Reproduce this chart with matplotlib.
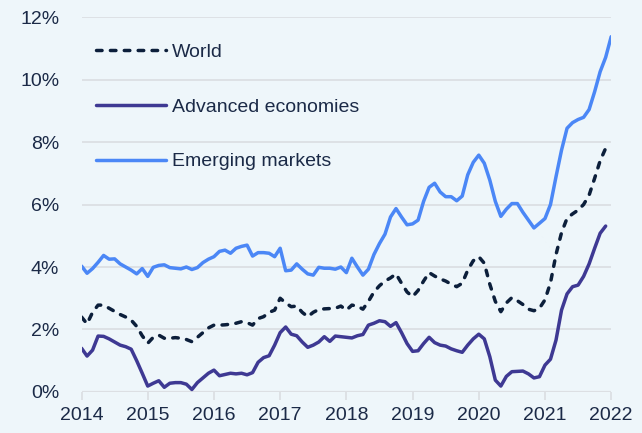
import matplotlib
matplotlib.use("Agg")
import matplotlib.pyplot as plt
import numpy as np

plt.rcParams['font.family'] = ['Liberation Sans', 'DejaVu Sans']

# Monthly series, Jan 2014 onward (percent)
world = [2.40, 2.18, 2.55, 2.78, 2.78, 2.68, 2.58, 2.48, 2.40, 2.30, 2.10, 1.80,
         1.56, 1.75, 1.82, 1.72, 1.72, 1.74, 1.72, 1.68, 1.61, 1.75, 1.90, 2.05,
         2.14, 2.14, 2.15, 2.17, 2.20, 2.25, 2.22, 2.14, 2.35, 2.41, 2.55, 2.62,
         3.00, 2.85, 2.73, 2.75, 2.55, 2.41, 2.55, 2.64, 2.66, 2.67, 2.68, 2.75,
         2.62, 2.78, 2.75, 2.65, 2.90, 3.20, 3.40, 3.55, 3.65, 3.78, 3.48, 3.20,
         3.05, 3.25, 3.55, 3.82, 3.71, 3.62, 3.55, 3.45, 3.37, 3.48, 3.90, 4.20,
         4.33, 4.12, 3.45, 2.90, 2.57, 2.85, 3.02, 2.92, 2.80, 2.65, 2.60, 2.68,
         2.95, 3.50, 4.40, 5.10, 5.56, 5.70, 5.82, 6.00, 6.30, 6.84, 7.40, 7.80]

advanced = [1.40, 1.15, 1.34, 1.79, 1.78, 1.70, 1.60, 1.50, 1.45, 1.37, 1.00, 0.60,
            0.19, 0.28, 0.36, 0.15, 0.28, 0.30, 0.30, 0.25, 0.08, 0.30, 0.45, 0.60,
            0.70, 0.52, 0.56, 0.60, 0.58, 0.60, 0.55, 0.62, 0.95, 1.10, 1.16, 1.50,
            1.90, 2.08, 1.85, 1.80, 1.60, 1.43, 1.50, 1.60, 1.77, 1.62, 1.79, 1.77,
            1.75, 1.73, 1.80, 1.84, 2.14, 2.20, 2.28, 2.25, 2.10, 2.22, 1.90, 1.55,
            1.30, 1.32, 1.55, 1.75, 1.58, 1.50, 1.47, 1.38, 1.32, 1.27, 1.50, 1.70,
            1.85, 1.70, 1.13, 0.38, 0.19, 0.50, 0.65, 0.66, 0.67, 0.58, 0.45, 0.49,
            0.86, 1.05, 1.66, 2.62, 3.14, 3.37, 3.42, 3.70, 4.10, 4.60, 5.08, 5.31]

emerging = [4.03, 3.80, 3.95, 4.15, 4.37, 4.25, 4.26, 4.10, 4.00, 3.90, 3.78, 3.95,
            3.70, 3.99, 4.05, 4.07, 3.98, 3.96, 3.94, 4.00, 3.92, 3.98, 4.14, 4.25,
            4.33, 4.50, 4.54, 4.44, 4.60, 4.66, 4.70, 4.35, 4.46, 4.46, 4.44, 4.33,
            4.60, 3.88, 3.90, 4.10, 3.93, 3.78, 3.74, 3.99, 3.96, 3.96, 3.93, 4.00,
            3.82, 4.28, 4.00, 3.74, 3.93, 4.40, 4.75, 5.05, 5.60, 5.87, 5.60, 5.35,
            5.38, 5.50, 6.10, 6.55, 6.68, 6.40, 6.25, 6.25, 6.12, 6.27, 6.95, 7.35,
            7.58, 7.32, 6.78, 6.10, 5.62, 5.85, 6.03, 6.03, 5.75, 5.50, 5.25, 5.40,
            5.55, 6.00, 6.89, 7.74, 8.44, 8.62, 8.72, 8.79, 9.04, 9.61, 10.25, 10.71,
            11.37]

years = [2014, 2015, 2016, 2017, 2018, 2019, 2020, 2021, 2022]
yticks = [0, 2, 4, 6, 8, 10, 12]
labels = ["World", "Advanced economies", "Emerging markets"]

BG = "#eef6fa"
TXT = "#1b2a47"
C_WORLD = "#0c1f3b"
C_ADV = "#3e3993"
C_EM = "#4b87f6"
GRID = "#dcdfe3"

fig = plt.figure(figsize=(6.42, 4.33), dpi=100, facecolor=BG)
ax = fig.add_axes([0.127, 0.0947, 0.825, 0.866], facecolor=BG)

x_w = 2014 + np.arange(len(world)) / 12.0
x_a = 2014 + np.arange(len(advanced)) / 12.0
x_e = 2014 + np.arange(len(emerging)) / 12.0

lw = 2.5
ax.plot(x_w, world, color=C_WORLD, lw=lw, ls=(0, (1.6, 2.4)), label=labels[0],
        dash_capstyle='round', dash_joinstyle='round', zorder=3)
ax.plot(x_a, advanced, color=C_ADV, lw=lw, label=labels[1], zorder=3,
        solid_joinstyle='round', solid_capstyle='round')
ax.plot(x_e, emerging, color=C_EM, lw=lw, label=labels[2], zorder=3,
        solid_joinstyle='round', solid_capstyle='round')

ax.set_xlim(2014, 2022)
ax.set_ylim(0, 12)
ax.set_yticks(yticks)
ax.set_yticklabels([f"{v}%" for v in yticks])
ax.set_xticks(years)
ax.set_xticklabels([str(y) for y in years])

for v in yticks[1:]:
    ax.axhline(v, color=GRID, lw=1.3, zorder=1)
ax.axhline(0, color=GRID, lw=1.6, zorder=1)

for s in ax.spines.values():
    s.set_visible(False)

ax.tick_params(axis='y', length=0, pad=16, labelsize=14, labelcolor=TXT)
ax.tick_params(axis='x', length=6, width=1.3, color=GRID, pad=5,
               labelsize=14, labelcolor=TXT)

leg = ax.legend(loc='upper left', bbox_to_anchor=(0.028, 0.929), frameon=False,
                handlelength=3.6, handletextpad=0.3, labelspacing=1.9,
                fontsize=14, borderaxespad=0.0, borderpad=0.0)
for t in leg.get_texts():
    t.set_color(TXT)

fig.savefig("out.png", dpi=100, facecolor=BG)
